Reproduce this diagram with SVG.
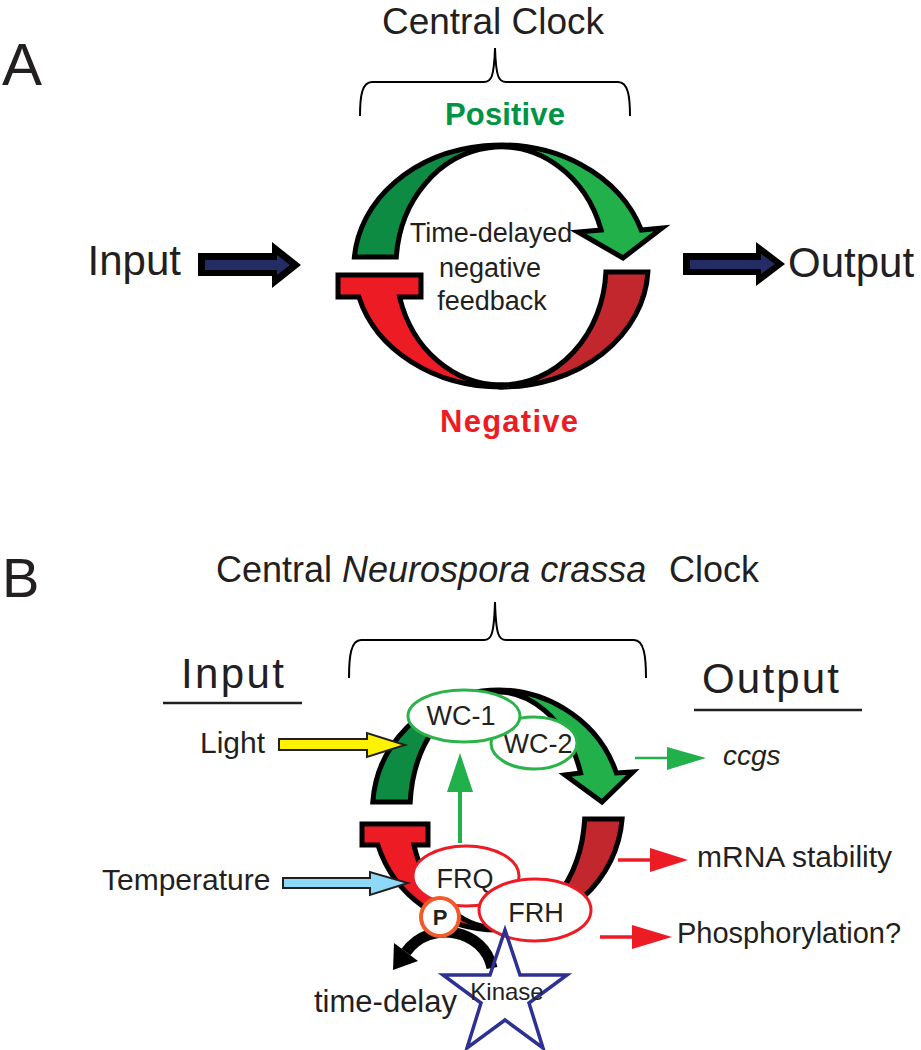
<svg xmlns="http://www.w3.org/2000/svg" width="921" height="1050" viewBox="0 0 921 1050">
<style>
.t{font-family:"Liberation Sans",Arial,sans-serif;fill:#231F20}
.loop{stroke:#000;stroke-width:5;stroke-linejoin:miter}
.brace{fill:none;stroke:#000;stroke-width:2}
.uline{stroke:#231F20;stroke-width:2.5}
.gnode{fill:#fff;stroke:#2BB34A;stroke-width:3}
.rnode{fill:#fff;stroke:#ED1C24;stroke-width:3}
.thin{stroke:#231F20;stroke-width:2;stroke-linejoin:miter}
</style>
<defs>
<linearGradient id="gA" gradientUnits="userSpaceOnUse" x1="350" y1="0" x2="670" y2="0">
<stop offset="0.46" stop-color="#0E8B43"/><stop offset="0.46" stop-color="#22B04B"/></linearGradient>
<linearGradient id="gB" gradientUnits="userSpaceOnUse" x1="370" y1="0" x2="640" y2="0">
<stop offset="0.47" stop-color="#0E8B43"/><stop offset="0.47" stop-color="#22B04B"/></linearGradient>
</defs>

<!-- Panel A -->
<g id="panelA-labels">
<text class="t" x="2" y="85" font-size="60">A</text>
<text class="t" x="493" y="34" font-size="37" text-anchor="middle">Central Clock</text>
<path class="brace" d="M360,116 C360,96 362,82 372,82 H484 C491,82 494,78 495,48 C496,78 499,82 506,82 H618 C628,82 630,96 630,116"/>
<text x="505" y="125" font-size="31" font-weight="bold" text-anchor="middle" textLength="120" style="font-family:'Liberation Sans',Arial,sans-serif;fill:#009444">Positive</text>
<text x="509" y="432" font-size="31" font-weight="bold" text-anchor="middle" textLength="138" style="font-family:'Liberation Sans',Arial,sans-serif;fill:#ED1C24">Negative</text>
</g>
<g id="loopA">
<path class="loop" fill="url(#gA)" d="M354.4,257 A147,121 0 0 1 641.3,230 L662,228 L623,258 L578,232 L601.1,230 A105,119 0 0 0 396.3,257 Z"/>
<path class="loop" fill="#ED1C24" d="M338,275 H421 V297 H399.6 A105,119 0 0 0 501,385 L501,387 A147,121 0 0 1 358.9,297 H338 Z"/>
<path class="loop" fill="#C1272D" d="M605.9,272 H647.9 A147,121 0 0 1 501,387 L501,385 A105,119 0 0 0 605.9,272 Z"/>
<text class="t" font-size="27" text-anchor="middle"><tspan x="491" y="242">Time-delayed</tspan><tspan x="490" y="277">negative</tspan><tspan x="492" y="310">feedback</tspan></text>
</g>
<g id="inputA">
<text class="t" x="181" y="275" font-size="42" text-anchor="end">Input</text>
<path fill="#000" d="M198,253 H272 V242 L301,265 L272,288 V276 H198 Z"/>
<path fill="#232C64" d="M205,260 H277 V255 L290,265 L277,275 V270 H205 Z"/>
</g>
<g id="outputA">
<path fill="#000" d="M683,253 H756 V242 L785,264 L756,286 V275 H683 Z"/>
<path fill="#232C64" d="M690,260 H761 V254 L775,264 L761,274 V269 H690 Z"/>
<text class="t" x="788" y="277" font-size="42">Output</text>
</g>

<!-- Panel B -->
<g id="panelB-labels">
<text class="t" x="2" y="597" font-size="56">B</text>
<text class="t" y="582" font-size="36"><tspan x="216">Central </tspan><tspan font-style="italic">Neurospora crassa</tspan><tspan x="669">Clock</tspan></text>
<path class="brace" d="M349,678 C349,656 351,640 361,640 H484 C491,640 494,636 495,602 C496,636 499,640 506,640 H634 C644,640 646,656 646,678"/>
<text class="t" x="181" y="688" font-size="42" textLength="103">Input</text>
<line class="uline" x1="163" y1="703" x2="302" y2="703"/>
<text class="t" x="702" y="693" font-size="42" textLength="137">Output</text>
<line class="uline" x1="694" y1="710" x2="862" y2="710"/>
</g>
<g id="loopB">
<path class="loop" fill="url(#gB)" d="M372.8,802 A125,120 0 0 1 616.4,773 L633,772 L602,802 L565,775 L580.6,773 A87.5,118 0 0 0 410.2,802 Z"/>
<path class="loop" fill="#ED1C24" d="M362,824 H428 V845 H413.9 A87.5,118 0 0 0 497.5,928 L497.5,930 A125,120 0 0 1 377.9,845 H362 Z"/>
<path class="loop" fill="#C1272D" d="M584.7,819 H622.1 A125,120 0 0 1 497.5,930 L497.5,928 A87.5,118 0 0 0 584.7,819 Z"/>
</g>
<g id="connectors">
<path class="thin" fill="#FFF200" d="M279,739 H367 V733 L405,745 L367,757 V750 H279 Z"/>
<path class="thin" fill="#8ED8F8" d="M283,878 H370 V872 L408,883 L370,895 V888 H283 Z"/>
<line x1="460" y1="843" x2="460" y2="790" stroke="#22B04B" stroke-width="4"/>
<polygon points="447,792 473,792 460,753" fill="#22B04B"/>
<line x1="635" y1="758" x2="670" y2="758" stroke="#22B04B" stroke-width="2.5"/>
<polygon points="667,747 706,758 667,770" fill="#22B04B"/>
<line x1="618" y1="860" x2="652" y2="860" stroke="#ED1C24" stroke-width="3.5"/>
<polygon points="650,848 688,860 650,872" fill="#ED1C24"/>
<line x1="600" y1="937" x2="634" y2="937" stroke="#ED1C24" stroke-width="3.5"/>
<polygon points="632,925 672,937 632,949" fill="#ED1C24"/>
<path d="M492,968 C485,930 430,918 406,952" fill="none" stroke="#000" stroke-width="11"/>
<polygon points="418,961 393,970 394,943" fill="#000"/>
</g>
<g id="WC-2"><ellipse class="gnode" cx="534" cy="743" rx="43" ry="26"/><text class="t" x="538" y="753" font-size="27" text-anchor="middle">WC-2</text></g>
<g id="WC-1"><ellipse class="gnode" cx="464" cy="716" rx="56" ry="26"/><text class="t" x="461" y="725" font-size="27" text-anchor="middle">WC-1</text></g>
<g id="FRQ"><ellipse class="rnode" cx="466" cy="876" rx="53" ry="30"/><text class="t" x="465" y="888" font-size="27" text-anchor="middle">FRQ</text></g>
<g id="FRH"><ellipse class="rnode" cx="535" cy="910" rx="56" ry="31"/><text class="t" x="536" y="922" font-size="27" text-anchor="middle">FRH</text></g>
<g id="P"><circle cx="440" cy="917" r="19" fill="#fff" stroke="#F15A29" stroke-width="4"/><text class="t" x="440" y="925" font-size="22" font-weight="bold" text-anchor="middle">P</text></g>
<g id="Kinase">
<polygon points="505,930 520,975 567,975 529,1003 543,1048 505,1020 467,1048 481,1003 443,975 490,975" fill="none" stroke="#2E3192" stroke-width="3.5" stroke-linejoin="miter"/>
<text class="t" x="507" y="1000" font-size="24" text-anchor="middle">Kinase</text>
</g>
<g id="labelsB">
<text class="t" x="200" y="753" font-size="30">Light</text>
<text class="t" x="102" y="890" font-size="30">Temperature</text>
<text class="t" x="723" y="765" font-size="28" font-style="italic">ccgs</text>
<text class="t" x="697" y="867" font-size="30">mRNA stability</text>
<text class="t" x="677" y="943" font-size="29">Phosphorylation?</text>
<text class="t" x="314" y="1012" font-size="31">time-delay</text>
</g>
</svg>
